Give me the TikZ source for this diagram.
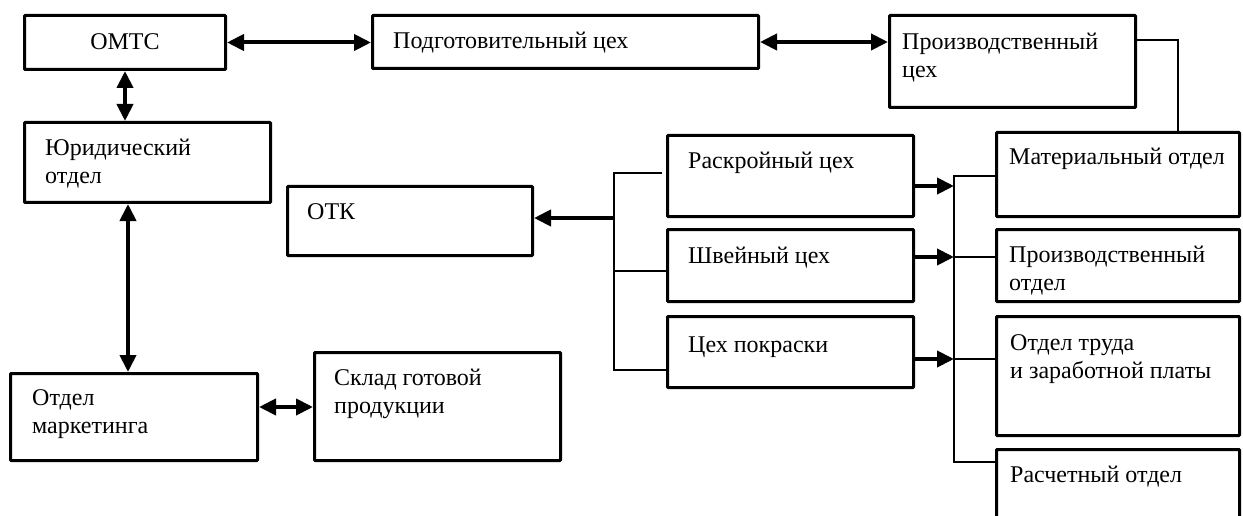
\documentclass[tikz,border=0pt]{standalone}
\usepackage{fontspec}
\setmainfont{Liberation Serif}
\usetikzlibrary{arrows.meta}
\begin{document}
\begin{tikzpicture}[x=1pt,y=-1pt,
  box/.style={draw, line width=3pt, inner sep=0pt, rounded corners=0.8pt},
  txt/.style={inner sep=0pt, anchor=base west, align=left, font=\fontsize{24}{28}\selectfont},
  link/.style={line width=1.4pt},
  arr/.style={line width=4pt, -{Triangle[length=17pt,width=16pt]}},
  darr/.style={line width=4pt, {Triangle[length=17pt,width=16pt]}-{Triangle[length=17pt,width=16pt]}},
]
\useasboundingbox (0,0) rectangle (1243,516);

% boxes
\node[box, minimum width=201pt, minimum height=54pt] (omts) at (125,42.5) {};
\node[box, minimum width=386pt, minimum height=53pt] (podg) at (565.5,42) {};
\node[box, minimum width=246pt, minimum height=92pt] (proizv) at (1012.5,61.5) {};
\node[box, minimum width=246pt, minimum height=80pt] (jur) at (147.5,162.5) {};
\node[box, minimum width=245pt, minimum height=69pt] (otk) at (410,221) {};
\node[box, minimum width=246pt, minimum height=81pt] (rask) at (790.5,176) {};
\node[box, minimum width=246pt, minimum height=72pt] (shv) at (790.5,265.5) {};
\node[box, minimum width=246pt, minimum height=71pt] (pokr) at (790.5,352) {};
\node[box, minimum width=243pt, minimum height=84pt] (mat) at (1118,174.5) {};
\node[box, minimum width=243pt, minimum height=72pt] (potd) at (1118,265.5) {};
\node[box, minimum width=243pt, minimum height=119pt] (trud) at (1118,376) {};
\node[box, minimum width=243pt, minimum height=109pt] (rasch) at (1118,504) {};
\node[box, minimum width=247pt, minimum height=87pt] (mark) at (134,417) {};
\node[box, minimum width=246pt, minimum height=108pt] (sklad) at (437.5,406.5) {};

% texts (multi-line nodes: base anchor = last line)
\node[txt, anchor=base] (omts-l) at (125,50) {ОМТС};
\node[txt] (podg-l) at (393,49) {Подготовительный цех};
\node[txt] (proizv-l) at (902,78) {Производственный\\цех};
\node[txt] (jur-l) at (45,183) {Юридический\\отдел};
\node[txt] (otk-l) at (307,219) {ОТК};
\node[txt] (rask-l) at (688,168) {Раскройный цех};
\node[txt] (shv-l) at (688,263) {Швейный цех};
\node[txt] (pokr-l) at (688,352) {Цех покраски};
\node[txt] (mat-l) at (1009,165) {Материальный отдел};
\node[txt] (potd-l) at (1009,290) {Производственный\\отдел};
\node[txt] (trud-l) at (1010,378) {Отдел труда\\и заработной платы};
\node[txt] (rasch-l) at (1010,482) {Расчетный отдел};
\node[txt] (mark-l) at (32,433) {Отдел\\маркетинга};
\node[txt] (sklad-l) at (334,413) {Склад готовой\\продукции};

% top row and left column
\draw[darr] (omts.east) -- (omts.east -| podg.west);
\draw[darr] (podg.east) -- (podg.east -| proizv.west);
\draw[darr] (omts.south) -- (omts.south |- jur.north);
\coordinate (jm) at ([xshift=-19.5pt]jur.south);
\draw[darr] (jm) -- (jm |- mark.north);
\coordinate (ms) at ([yshift=10pt]mark.east);
\draw[darr] (ms) -- (ms -| sklad.west);
\coordinate (pe) at ([yshift=21.5pt]proizv.east);
\coordinate (mn) at ([xshift=60pt]mat.north);
\draw[link] (pe) -| (mn);

% left bus
\coordinate (lb) at (614,0);
\coordinate (rk) at ([xshift=-4pt,yshift=3pt]rask.west);
\coordinate (sv) at ([yshift=-5.5pt]shv.west);
\coordinate (pk) at ([yshift=-18pt]pokr.west);
\draw[link] (rk) -- (rk -| lb) -- (pk -| lb) -- (pk);
\draw[link] (sv -| lb) -- (sv);
\coordinate (ok) at ([yshift=3pt]otk.east);
\draw[arr] (ok -| lb) -- (ok);

% right bus
\coordinate (rb) at (954,0);
\coordinate (ma) at ([yshift=-1.5pt]mat.west);
\coordinate (po) at ([yshift=8.5pt]potd.west);
\coordinate (tr) at ([yshift=17pt]trud.west);
\coordinate (ra) at ([yshift=42pt]rasch.west);
\draw[link] (ma) -- (ma -| rb) -- (ra -| rb) -- (ra);
\draw[link] (po -| rb) -- (po);
\draw[link] (tr -| rb) -- (tr);
\coordinate (a1) at ([yshift=-10pt]rask.east);
\coordinate (a2) at ([yshift=8.5pt]shv.east);
\coordinate (a3) at ([yshift=-7pt]pokr.east);
\draw[arr] (a1) -- (a1 -| rb);
\draw[arr] (a2) -- (a2 -| rb);
\draw[arr] (a3) -- (a3 -| rb);
\end{tikzpicture}
\end{document}
